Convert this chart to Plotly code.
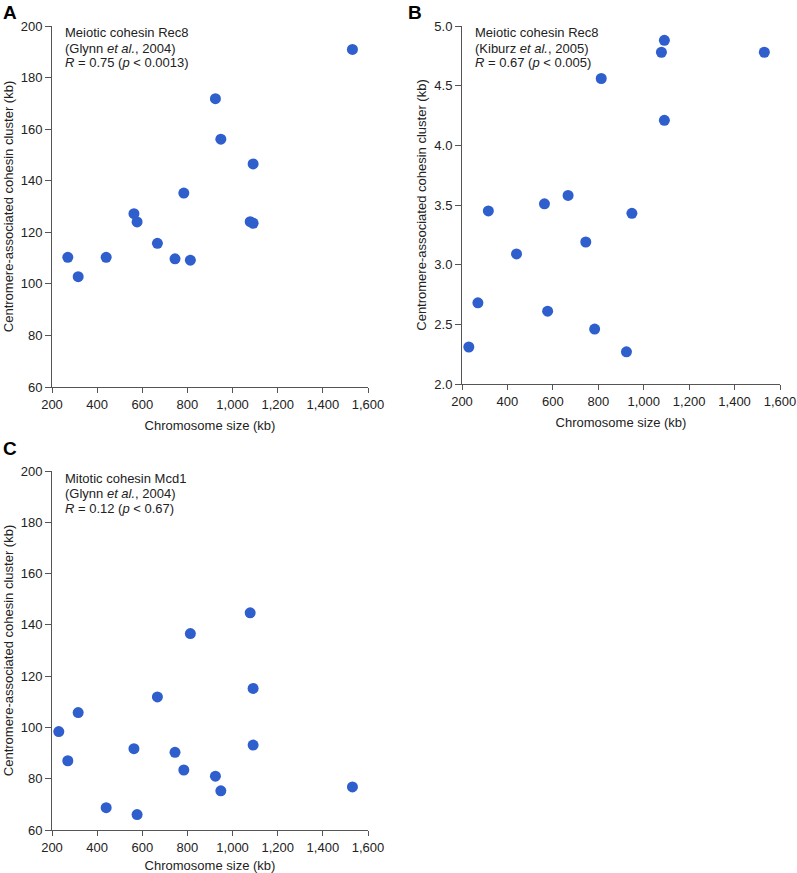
import plotly.graph_objects as go

W, H = 797, 873

# Panel A: Glynn et al. 2004, Rec8
a_size = [270, 316, 440, 563, 577, 667, 745, 784, 813, 924, 948, 1078, 1091, 1091, 1531]
a_cluster = [110.3, 102.8, 110.3, 127.2, 124.0, 115.7, 109.7, 135.2, 109.2, 171.8, 156.1, 124.1, 123.5, 146.5, 190.9]

# Panel B: Kiburz et al. 2005, Rec8
b_size = [230, 270, 316, 440, 563, 577, 667, 745, 784, 813, 924, 948, 1078, 1091, 1091, 1531]
b_cluster = [2.31, 2.68, 3.45, 3.09, 3.51, 2.61, 3.58, 3.19, 2.46, 4.56, 2.27, 3.43, 4.78, 4.88, 4.21, 4.78]

# Panel C: Glynn et al. 2004, Mcd1
c_size = [230, 270, 316, 440, 563, 577, 667, 745, 784, 813, 924, 948, 1078, 1091, 1091, 1531]
c_cluster = [98.4, 87.0, 105.8, 68.7, 91.7, 66.0, 111.9, 90.3, 83.4, 136.6, 81.0, 75.3, 144.7, 115.2, 93.1, 76.8]

x_ticks = [200, 400, 600, 800, 1000, 1200, 1400, 1600]
x_ticklabels = ["200", "400", "600", "800", "1,000", "1,200", "1,400", "1,600"]
ac_yticks = [60, 80, 100, 120, 140, 160, 180, 200]
b_yticks = [2.0, 2.5, 3.0, 3.5, 4.0, 4.5, 5.0]
b_yticklabels = ["2.0", "2.5", "3.0", "3.5", "4.0", "4.5", "5.0"]

notes = {
    "A": ["Meiotic cohesin Rec8", "(Glynn <i>et al.</i>, 2004)", "<i>R</i> = 0.75 (<i>p</i> &lt; 0.0013)"],
    "B": ["Meiotic cohesin Rec8", "(Kiburz <i>et al.</i>, 2005)", "<i>R</i> = 0.67 (<i>p</i> &lt; 0.005)"],
    "C": ["Mitotic cohesin Mcd1", "(Glynn <i>et al.</i>, 2004)", "<i>R</i> = 0.12 (<i>p</i> &lt; 0.67)"],
}

FONT = "Liberation Sans, Arial, Helvetica, sans-serif"
DOT = "#2f5fcc"
AX = "#555555"
TXT = "#222222"

# pixel boxes: (left, right, top, bottom)
boxes = {"A": (52, 368, 26, 387), "B": (462, 780, 26, 384), "C": (52, 368, 471, 830)}
letter_pos = {"A": (1, 0), "B": (406, 0), "C": (1, 436)}

def px_dom(l, r, t, b):
    return [l / W, r / W], [1 - b / H, 1 - t / H]

fig = go.Figure()
panels = [
    ("A", "x", "y", a_size, a_cluster, [60, 200], ac_yticks, [str(v) for v in ac_yticks]),
    ("B", "x2", "y2", b_size, b_cluster, [2.0, 5.0], b_yticks, b_yticklabels),
    ("C", "x3", "y3", c_size, c_cluster, [60, 200], ac_yticks, [str(v) for v in ac_yticks]),
]

layout = dict(
    width=W, height=H, margin=dict(l=0, r=0, t=0, b=0, autoexpand=False),
    paper_bgcolor="white", plot_bgcolor="white", showlegend=False,
    font=dict(family=FONT, size=13, color=TXT),
)
annotations = []
for name, xa, ya, xs, ys, yr, yt, ytl in panels:
    fig.add_trace(go.Scatter(
        x=xs, y=ys, mode="markers", xaxis=xa, yaxis=ya,
        marker=dict(size=11, color=DOT, line=dict(width=0)),
        hoverinfo="x+y", cliponaxis=False,
    ))
    l, r, t, b = boxes[name]
    xd, yd = px_dom(l, r, t, b)
    xkey = "xaxis" if xa == "x" else "xaxis" + xa[1:]
    ykey = "yaxis" if ya == "y" else "yaxis" + ya[1:]
    layout[xkey] = dict(
        domain=xd, range=[200, 1600], anchor=ya, tickvals=x_ticks, ticktext=x_ticklabels,
        showgrid=False, zeroline=False, showline=True, linecolor=AX, linewidth=1,
        ticks="outside", ticklen=5, tickcolor=AX, tickwidth=1, automargin=False,
        tickfont=dict(size=13, family=FONT, color=TXT),
        title=dict(text="Chromosome size (kb)", font=dict(size=13, family=FONT, color=TXT), standoff=10),
    )
    layout[ykey] = dict(
        domain=yd, range=yr, anchor=xa, tickvals=yt, ticktext=ytl,
        showgrid=False, zeroline=False, showline=True, linecolor=AX, linewidth=1,
        ticks="outside", ticklen=6, tickcolor=AX, tickwidth=1, automargin=False,
        tickfont=dict(size=13, family=FONT, color=TXT),
        title=dict(text="Centromere-associated cohesin cluster (kb)",
                   font=dict(size=13, family=FONT, color=TXT), standoff=4),
    )
    # note text, one line per annotation (tighter line spacing)
    for i, line in enumerate(notes[name]):
        annotations.append(dict(
            x=(l + 11) / W, y=1 - (t + 7 + 15 * i) / H, xref="paper", yref="paper",
            xanchor="left", yanchor="middle", align="left", showarrow=False,
            text=line, font=dict(size=13, family=FONT, color=TXT),
        ))
    # panel letter
    lx, ly = letter_pos[name]
    annotations.append(dict(
        x=lx / W, y=1 - ly / H, xref="paper", yref="paper",
        xanchor="left", yanchor="top", showarrow=False,
        text="<b>%s</b>" % name, font=dict(size=19, family=FONT, color="#000"),
    ))

layout["annotations"] = annotations
fig.update_layout(**layout)
fig.write_html(
    "out.html",
    config={"displayModeBar": False},
    post_script="document.body.style.margin='0';document.body.style.overflow='hidden';",
)
